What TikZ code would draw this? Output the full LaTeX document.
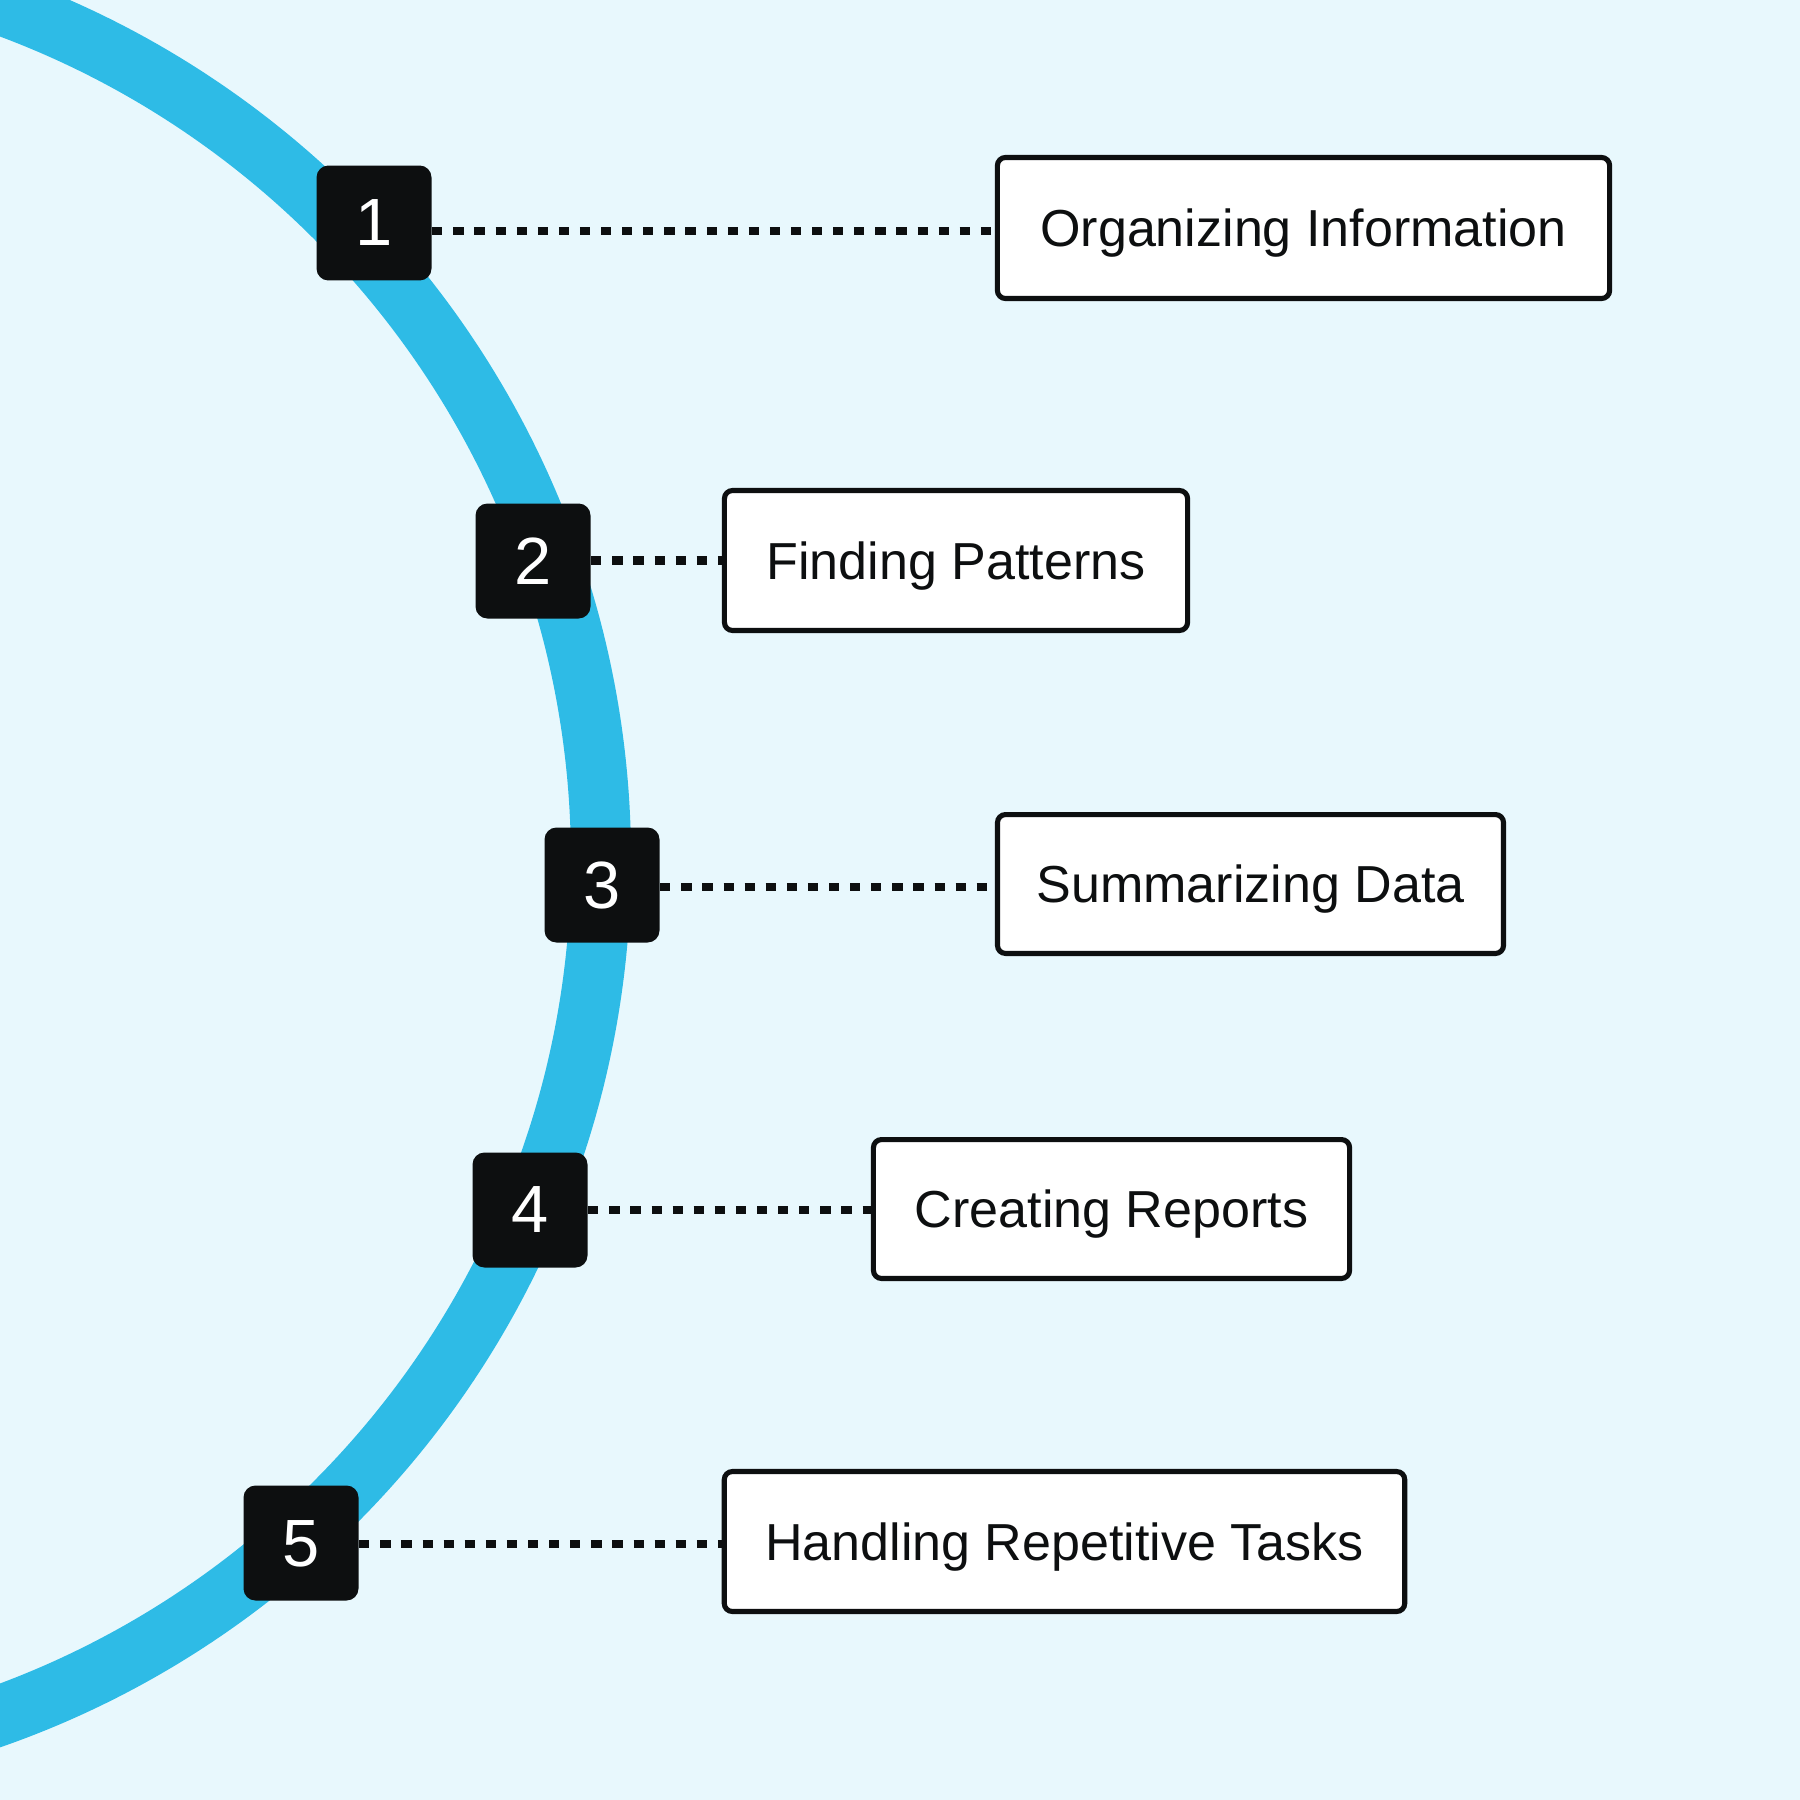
\documentclass[tikz,border=0pt]{standalone}
\usepackage{fontspec}
\setmainfont{Liberation Sans}
\definecolor{bgc}{HTML}{E8F8FD}
\definecolor{arcc}{HTML}{2EBBE6}
\definecolor{ink}{HTML}{0D0F10}
\tikzset{
  numbox/.style={fill=ink, rounded corners=3.4pt, minimum width=32.7pt, minimum height=32.7pt, inner sep=0pt, text=white, text depth=0pt, font=\fontsize{19}{22}\selectfont},
  labelbox/.style={draw=ink, fill=white, line width=1.45pt, rounded corners=2.3pt, inner sep=0pt, text=ink, text depth=0pt, font=\fontsize{14.8}{18}\selectfont},
  dotline/.style={draw=ink, line width=2.3pt, dash pattern=on 2.9pt off 3.1pt}
}
\begin{document}
\begin{tikzpicture}[x=0.01cm, y=-0.01cm]
\fill[bgc] (0,0) rectangle (1800,1800);
\useasboundingbox (0,0) rectangle (1800,1800);
\begin{scope}
\clip (0,0) rectangle (1800,1800);
\draw[arcc, line width=17.1pt] (-308,860) circle[radius=909];
\end{scope}
% number boxes
\node[numbox] (n1) at (374,223) {1};
\node[numbox] (n2) at (533,561) {2};
\node[numbox] (n3) at (602,885) {3};
\node[numbox] (n4) at (530,1210) {4};
\node[numbox] (n5) at (301,1543) {5};
% label boxes
\node[labelbox, minimum width=174.1pt, minimum height=40.1pt] (l1) at (1303.5,228) {Organizing Information};
\node[labelbox, minimum width=131.7pt, minimum height=39.8pt] (l2) at (956,560.5) {Finding Patterns};
\node[labelbox, minimum width=143.9pt, minimum height=39.5pt] (l3) at (1250.5,884) {Summarizing Data};
\node[labelbox, minimum width=135.4pt, minimum height=39.5pt] (l4) at (1111.5,1209) {Creating Reports};
\node[labelbox, minimum width=193.5pt, minimum height=39.8pt] (l5) at (1064.5,1541.5) {Handling Repetitive Tasks};
% connectors
\draw[dotline] ([yshift=-0.8pt]n1.east |- l1.west) -- ([yshift=-0.8pt]l1.west);
\draw[dotline] (n2.east |- l2.west) -- (l2.west);
\draw[dotline] ([yshift=-0.8pt]n3.east |- l3.west) -- ([yshift=-0.8pt]l3.west);
\draw[dotline] ([yshift=-0.4pt]n4.east |- l4.west) -- ([yshift=-0.4pt]l4.west);
\draw[dotline] ([yshift=-0.6pt]n5.east |- l5.west) -- ([yshift=-0.6pt]l5.west);
\end{tikzpicture}
\end{document}
